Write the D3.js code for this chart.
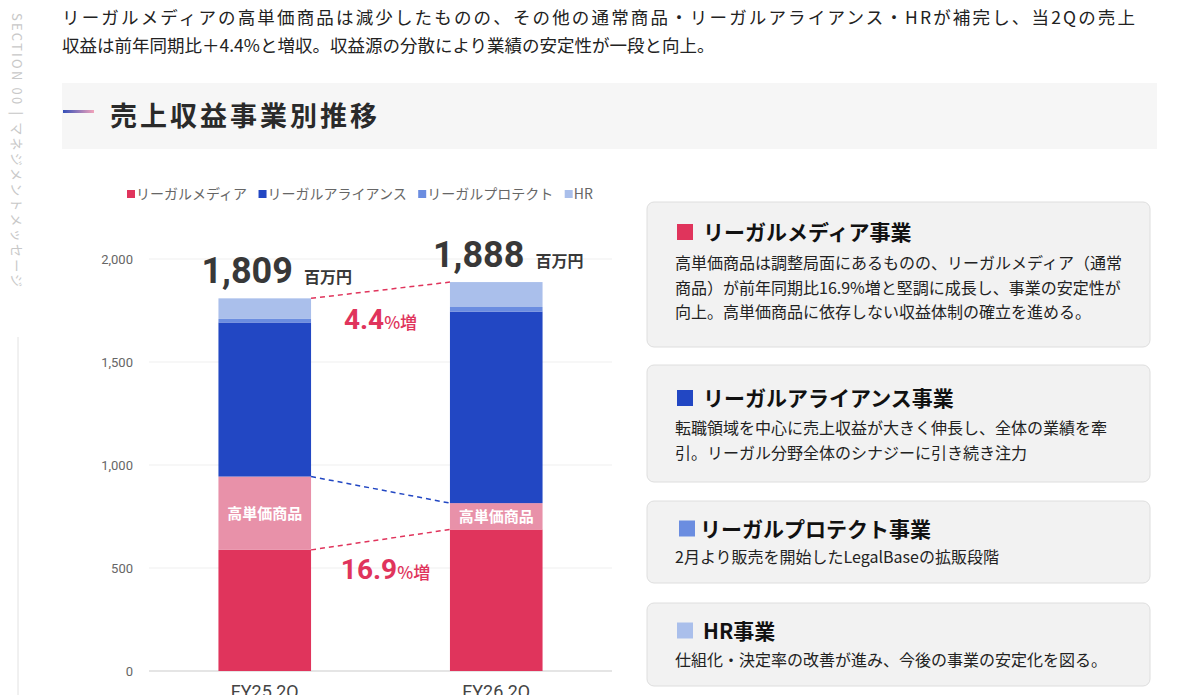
<!DOCTYPE html>
<html>
<head>
<meta charset="utf-8">
<script src="https://cdn.jsdelivr.net/npm/d3@7"></script>
<style>
  body { margin: 0; background: #fff; }
  svg { display: block; font-family: "Noto Sans CJK JP", "Noto Sans", sans-serif; }
</style>
</head>
<body>
<svg></svg>
<script>
// data (百万円)
const periods = ['FY25 2Q', 'FY26 2Q'];
const seriesKeys = ['media', 'highPrice', 'alliance', 'protect', 'hr'];
const mediaValues = [588, 687];
const highPriceValues = [356, 128];
const allianceValues = [748, 930];
const protectValues = [17, 22];
const hrValues = [100, 121];
const totals = [1809, 1888];
const yTicks = [0, 500, 1000, 1500, 2000];
const legendNames = ['リーガルメディア', 'リーガルアライアンス', 'リーガルプロテクト', 'HR'];
const legendKeys = ['media', 'alliance', 'protect', 'hr'];
const totalGrowth = '4.4';
const mediaGrowth = '16.9';

const introLines = [
    'リーガルメディアの高単価商品は減少したものの、その他の通常商品・リーガルアライアンス・HRが補完し、当2Qの売上',
    '収益は前年同期比＋4.4%と増収。収益源の分散により業績の安定性が一段と向上。'
];
const boxTitles = ['リーガルメディア事業', 'リーガルアライアンス事業', 'リーガルプロテクト事業', 'HR事業'];
const boxKeys = ['media', 'alliance', 'protect', 'hr'];
const boxBodies = [
    ['高単価商品は調整局面にあるものの、リーガルメディア（通常',
     '商品）が前年同期比16.9%増と堅調に成長し、事業の安定性が',
     '向上。高単価商品に依存しない収益体制の確立を進める。'],
    ['転職領域を中心に売上収益が大きく伸長し、全体の業績を牽',
     '引。リーガル分野全体のシナジーに引き続き注力'],
    ['2月より販売を開始したLegalBaseの拡販段階'],
    ['仕組化・決定率の改善が進み、今後の事業の安定化を図る。']
];

const colors = {
    media: '#e0345c',
    highPrice: '#e891a9',
    alliance: '#2247c3',
    protect: '#6b8de0',
    hr: '#aabfeb'
};

const size = {w: 1200, h: 695};
const svg = d3.select('svg').attr('width', size.w).attr('height', size.h);
const numFont = 'Roboto, "Noto Sans CJK JP", sans-serif';

// ---- left vertical section label
svg.append('text')
    .attr('transform', 'translate(12,13) rotate(90)')
    .attr('font-size', 13)
    .attr('letter-spacing', 2.2)
    .attr('fill', '#c8c8c8')
    .text('SECTION 00 | マネジメントメッセージ');

svg.append('line')
    .attr('x1', 18).attr('x2', 18)
    .attr('y1', 337).attr('y2', 695)
    .attr('stroke', '#e2e2e2')
    .attr('stroke-width', 1);

// ---- intro text
svg.append('text')
    .attr('x', 62).attr('y', 24)
    .attr('font-size', 17.5)
    .attr('fill', '#222')
    .attr('textLength', 1073)
    .attr('lengthAdjust', 'spacing')
    .text(introLines[0]);

svg.append('text')
    .attr('x', 62).attr('y', 52)
    .attr('font-size', 17.5)
    .attr('fill', '#222')
    .text(introLines[1]);

// ---- title bar
const defs = svg.append('defs');
const grad = defs.append('linearGradient').attr('id', 'titleGrad');
grad.append('stop').attr('offset', '0%').attr('stop-color', '#3550b8');
grad.append('stop').attr('offset', '100%').attr('stop-color', '#f2a3ba');

svg.append('rect')
    .attr('x', 62).attr('y', 83)
    .attr('width', 1095).attr('height', 66)
    .attr('fill', '#f6f6f6');

svg.append('rect')
    .attr('x', 63).attr('y', 110)
    .attr('width', 31).attr('height', 3)
    .attr('fill', 'url(#titleGrad)');

svg.append('text')
    .attr('x', 110).attr('y', 126)
    .attr('font-size', 27)
    .attr('font-weight', 700)
    .attr('letter-spacing', 3)
    .attr('fill', '#2a2a2a')
    .text('売上収益事業別推移');

// ---- chart
const rows = periods.map((p, i) => ({
    period: p,
    media: mediaValues[i],
    highPrice: highPriceValues[i],
    alliance: allianceValues[i],
    protect: protectValues[i],
    hr: hrValues[i],
    total: totals[i]
}));

const stacked = d3.stack().keys(seriesKeys)(rows);

const plot = {l: 149, r: 612, t: 259, b: 671};

const x = d3.scaleBand()
    .domain(periods)
    .range([plot.l, plot.r])
    .paddingInner(0.6)
    .paddingOuter(0.3);

const y = d3.scaleLinear()
    .domain([0, 2000])
    .range([plot.b, plot.t]);

const chartG = svg.append('g').classed('chart', true);

// grid
chartG.append('g')
    .selectAll('line')
    .data(yTicks)
    .join('line')
    .attr('x1', plot.l).attr('x2', plot.r)
    .attr('y1', d => y(d)).attr('y2', d => y(d))
    .attr('stroke', d => d === 0 ? '#dcdcdc' : '#efefef')
    .attr('stroke-width', d => d === 0 ? 1.5 : 1);

// y axis labels
const yAxis = d3.axisLeft(y).tickValues(yTicks).tickFormat(d3.format(',')).tickSize(0).tickPadding(0);
chartG.append('g')
    .attr('transform', `translate(133,0)`)
    .call(yAxis)
    .call(g => g.select('.domain').remove())
    .call(g => g.selectAll('text')
        .attr('font-family', numFont)
        .attr('font-size', 13)
        .attr('fill', '#666'));

// x axis labels
const xAxis = d3.axisBottom(x).tickSize(0).tickPadding(0);
chartG.append('g')
    .attr('transform', `translate(0,${plot.b})`)
    .call(xAxis)
    .call(g => g.select('.domain').remove())
    .call(g => g.selectAll('text')
        .attr('dy', null)
        .attr('y', 27)
        .attr('font-family', numFont)
        .attr('font-size', 18)
        .attr('fill', '#444'));

// bars
chartG.append('g')
    .selectAll('g')
    .data(stacked)
    .join('g')
    .attr('fill', d => colors[d.key])
    .selectAll('rect')
    .data(d => d)
    .join('rect')
    .attr('x', d => x(d.data.period))
    .attr('y', d => y(d[1]))
    .attr('width', x.bandwidth())
    .attr('height', d => y(d[0]) - y(d[1]));

// 高単価商品 labels
const highSeries = stacked.find(s => s.key === 'highPrice');
chartG.append('g')
    .selectAll('text')
    .data(highSeries)
    .join('text')
    .attr('x', d => x(d.data.period) + x.bandwidth() / 2)
    .attr('y', d => (y(d[0]) + y(d[1])) / 2 + 5.5)
    .attr('text-anchor', 'middle')
    .attr('font-size', 15)
    .attr('font-weight', 700)
    .attr('fill', '#fff')
    .text('高単価商品');

// connector dashed lines
const x0 = x(periods[0]) + x.bandwidth();
const x1 = x(periods[1]);
const mediaTop = highSeries.map(d => d[0]);
const highTop = highSeries.map(d => d[1]);
const connectors = [
    {vals: totals, color: colors.media},
    {vals: highTop, color: colors.alliance},
    {vals: mediaTop, color: colors.media}
];
chartG.append('g')
    .selectAll('line')
    .data(connectors)
    .join('line')
    .attr('x1', x0).attr('x2', x1)
    .attr('y1', d => y(d.vals[0]))
    .attr('y2', d => y(d.vals[1]))
    .attr('stroke', d => d.color)
    .attr('stroke-width', 1.5)
    .attr('stroke-dasharray', '5,4');

// total labels
const totalLabels = chartG.append('g')
    .selectAll('text')
    .data(rows)
    .join('text')
    .attr('x', d => x(d.period) - 17)
    .attr('y', d => y(d.total) - 15)
    .attr('fill', '#383838')
    .attr('font-weight', 700);
totalLabels.append('tspan')
    .attr('font-family', numFont)
    .attr('font-size', 36)
    .text(d => d3.format(',')(d.total));
totalLabels.append('tspan')
    .attr('dx', 11)
    .attr('font-size', 16)
    .text('百万円');

// growth labels
const growth = [
    {num: totalGrowth, vals: totals, dx: 0},
    {num: mediaGrowth, vals: mediaTop, dx: 5}
];
const gText = chartG.append('g')
    .selectAll('text')
    .data(growth)
    .join('text')
    .attr('x', d => (x0 + x1) / 2 + d.dx)
    .attr('y', d => (y(d.vals[0]) + y(d.vals[1])) / 2 + 39)
    .attr('text-anchor', 'middle')
    .attr('fill', colors.media)
    .attr('font-weight', 700);
gText.append('tspan')
    .attr('font-family', numFont)
    .attr('font-size', 28)
    .text(d => d.num);
gText.append('tspan')
    .attr('font-size', 17)
    .attr('font-weight', 500)
    .text('%増');

// legend
const legend = chartG.append('g').attr('transform', 'translate(127,194)');
let lx = 0;
legendKeys.forEach((k, i) => {
    const item = legend.append('g').attr('transform', `translate(${lx},0)`);
    item.append('rect')
        .attr('x', 0).attr('y', -4)
        .attr('width', 8).attr('height', 8)
        .attr('fill', colors[k]);
    const t = item.append('text')
        .attr('x', 9).attr('y', 5)
        .attr('font-size', 14)
        .attr('fill', '#666')
        .text(legendNames[i]);
    lx += 9 + t.node().getComputedTextLength() + 11.5;
});

// ---- right side boxes
const boxTop = [202, 365, 501, 603];
const boxHeight = [145, 117, 82, 83];
const headOffset = [30, 33, 27.5, 27.5];
const bodyOffset = [61, 63, 56, 56.5];

const boxes = svg.append('g')
    .selectAll('g')
    .data(boxTitles)
    .join('g')
    .attr('transform', (d, i) => `translate(647,${boxTop[i]})`);

boxes.append('rect')
    .attr('x', 0).attr('y', 0)
    .attr('width', 503)
    .attr('height', (d, i) => boxHeight[i])
    .attr('rx', 7)
    .attr('fill', '#f2f2f2')
    .attr('stroke', '#dedede')
    .attr('stroke-width', 1);

boxes.append('rect')
    .attr('x', (d, i) => i === 2 ? 32 : 30)
    .attr('y', (d, i) => headOffset[i] - 8)
    .attr('width', 16).attr('height', 16)
    .attr('fill', (d, i) => colors[boxKeys[i]]);

boxes.append('text')
    .attr('x', (d, i) => i === 2 ? 53 : 56)
    .attr('y', (d, i) => headOffset[i] + 8)
    .attr('font-size', 21)
    .attr('font-weight', 700)
    .attr('fill', '#111')
    .text(d => d);

boxes.each(function(d, i) {
    d3.select(this).append('g')
        .selectAll('text')
        .data(boxBodies[i])
        .join('text')
        .attr('x', 28)
        .attr('y', (line, j) => bodyOffset[i] + 6 + j * 24.5)
        .attr('font-size', 16)
        .attr('fill', '#222')
        .text(line => line);
});
</script>
</body>
</html>
